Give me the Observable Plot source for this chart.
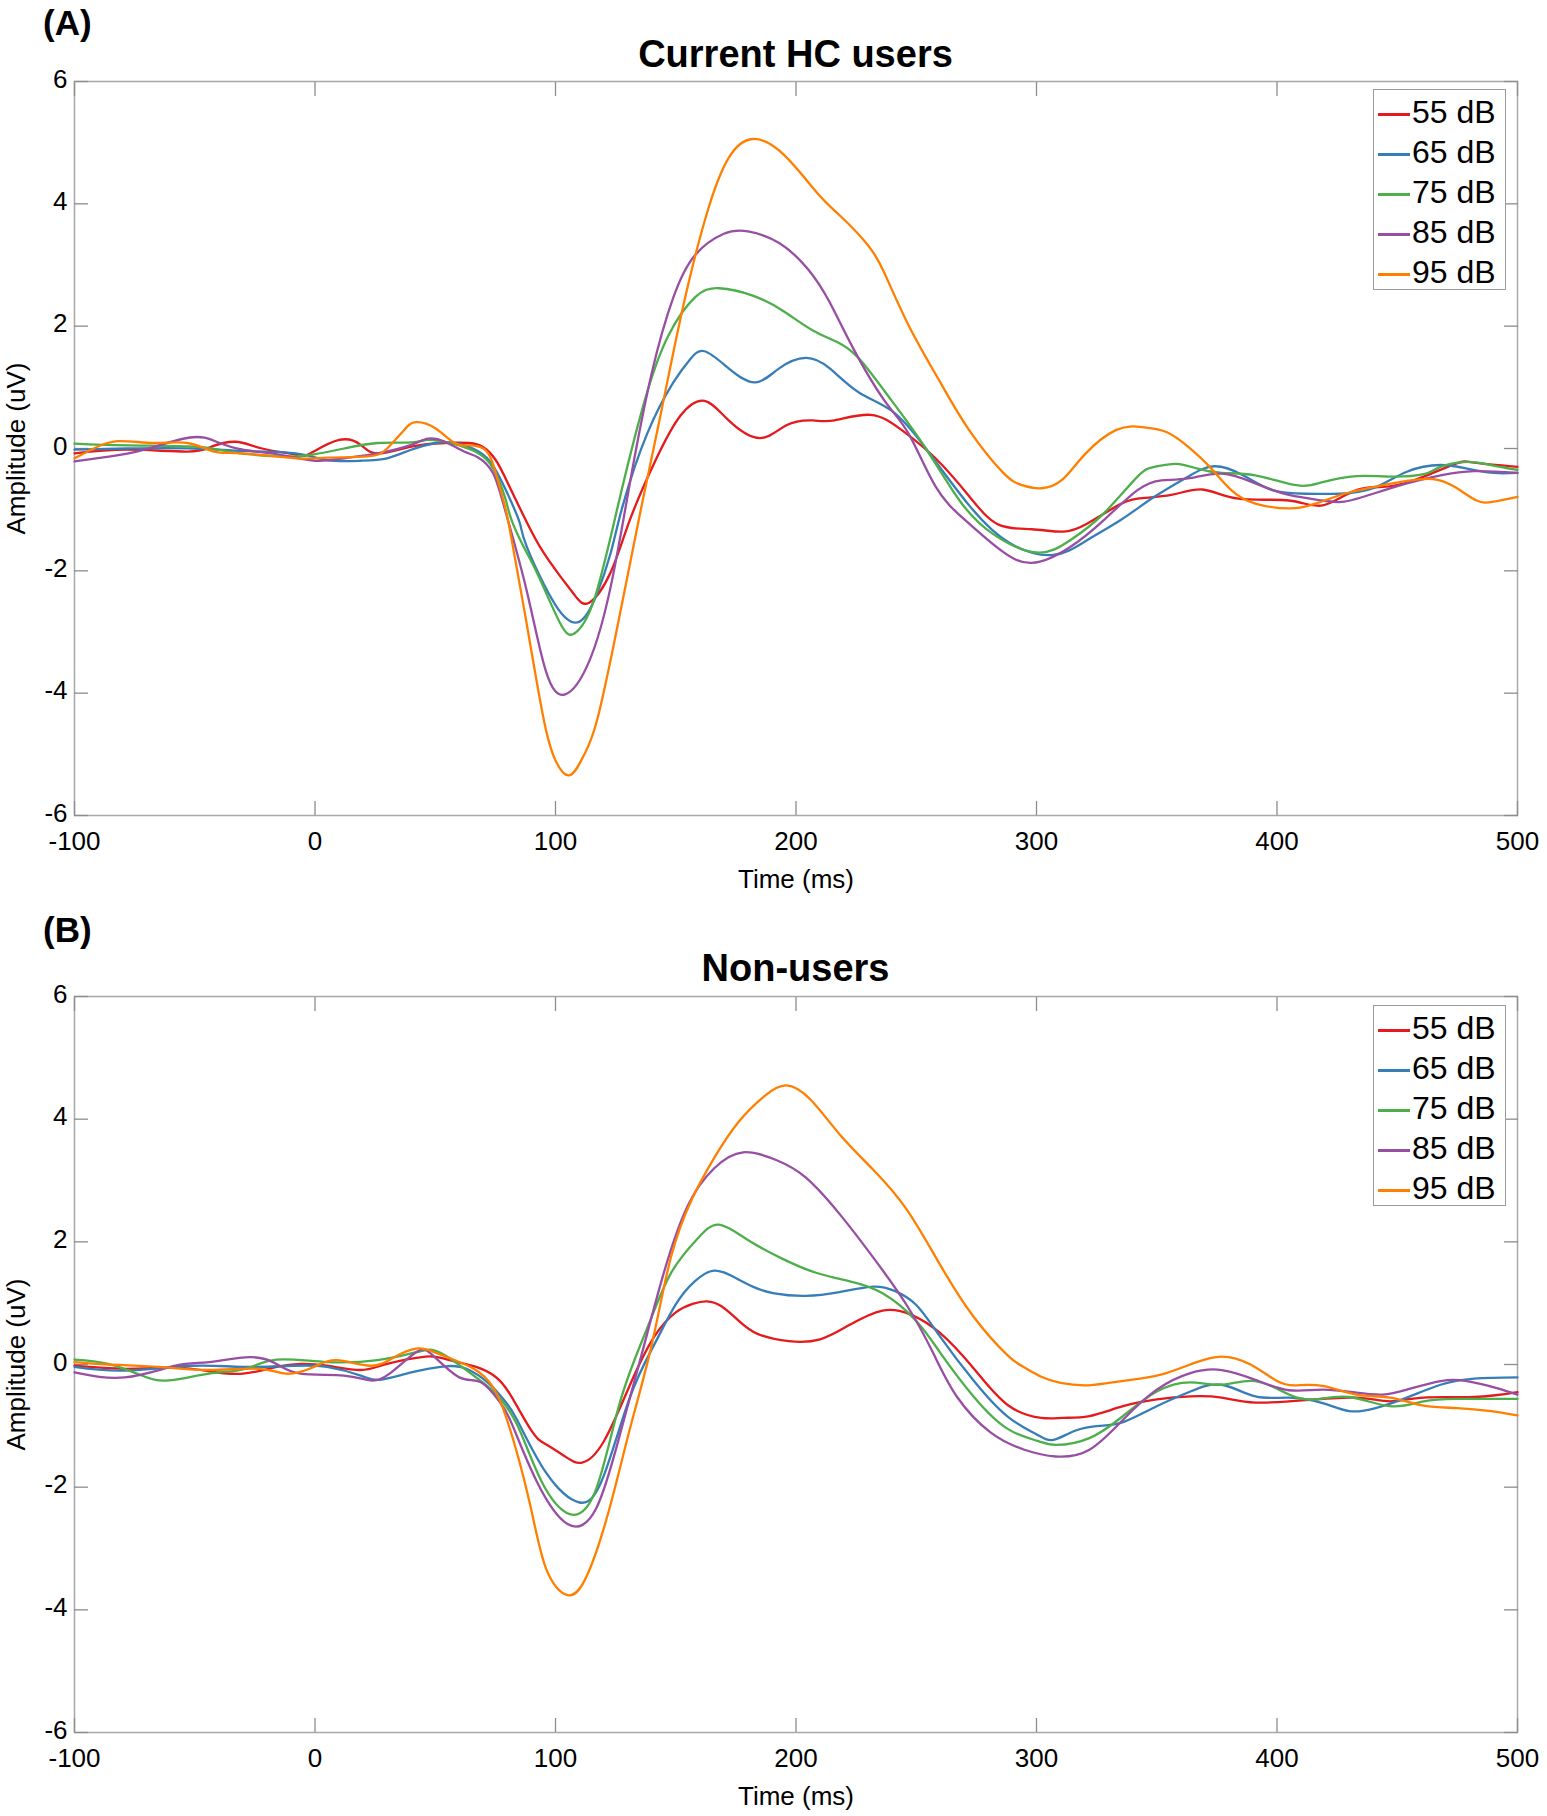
<!DOCTYPE html>
<html>
<head>
<meta charset="utf-8">
<script src="https://cdn.jsdelivr.net/npm/d3@7"></script>
<script src="https://cdn.jsdelivr.net/npm/@observablehq/plot@0.6"></script>
<style>
  body { margin: 0; background: #fff; font-family: "Liberation Sans", Arial, Helvetica, sans-serif; }
  #page { position: relative; width: 1547px; height: 1816px; overflow: hidden; }
  .panel-tag { position: absolute; left: 43px; font-weight: bold; font-size: 35px; line-height: 36px; }
  .panel-title { position: absolute; left: 74px; width: 1443px; text-align: center; font-weight: bold; font-size: 38px; line-height: 38px; }
  .plot { position: absolute; left: 0; }
  .legend { position: absolute; left: 1373px; width: 133px; height: 201px; border: 1.5px solid #9a9a9a; background: #fff; box-sizing: border-box; padding-top: 2px; }
  .legend div { height: 40px; line-height: 40px; font-size: 32px; white-space: nowrap; }
  .legend span.sw { display: inline-block; width: 32px; height: 2.5px; margin-left: 4px; margin-right: 2px; vertical-align: middle; }
</style>
</head>
<body>
<div id="page"></div>
<script>
// dB levels and line colours
const levels = ['55 dB', '65 dB', '75 dB', '85 dB', '95 dB']
const colors = ['#e41a1c', '#377eb8', '#4daf4a', '#984ea3', '#ff7f00']
const xTicks = [-100, 0, 100, 200, 300, 400, 500]
const yTicks = [-6, -4, -2, 0, 2, 4, 6]

// (A) Current HC users, [time ms, amplitude uV]
const hc55 = [[-100,-0.08],[-78,-0.02],[-53,-0.05],[-43,0.03],[-33,0.11],[-22,0.0],[-8,-0.1],[-2,-0.08],[10,0.14],[19,0.06],[26,-0.08],[40,0.03],[54,0.09],[64,0.09],[70,0.02],[75,-0.18],[80,-0.55],[88,-1.2],[95,-1.7],[102,-2.09],[108,-2.4],[114,-2.52],[123,-2.02],[131,-1.16],[142,-0.16],[152,0.54],[162,0.78],[172,0.46],[185,0.17],[196,0.38],[207,0.46],[216,0.46],[231,0.55],[244,0.3],[258,-0.16],[272,-0.78],[284,-1.24],[298,-1.32],[311,-1.36],[321,-1.23],[333,-0.95],[342,-0.82],[356,-0.76],[369,-0.67],[384,-0.82],[405,-0.85],[419,-0.93],[433,-0.68],[447,-0.62],[461,-0.46],[475,-0.24],[482,-0.23],[500,-0.3]]
const hc65 = [[-100,-0.02],[-78,0.0],[-50,0.0],[-30,-0.04],[-8,-0.08],[5,-0.19],[19,-0.2],[30,-0.16],[40,-0.02],[50,0.09],[58,0.09],[68,-0.05],[74,-0.28],[79,-0.65],[85,-1.2],[88,-1.6],[100,-2.56],[110,-2.83],[117,-2.4],[123,-1.7],[128,-0.93],[138,0.23],[149,1.08],[156,1.46],[162,1.59],[172,1.31],[183,1.08],[193,1.31],[204,1.48],[214,1.31],[226,0.92],[240,0.61],[254,0.0],[272,-0.93],[289,-1.55],[307,-1.74],[321,-1.5],[335,-1.17],[349,-0.79],[363,-0.46],[374,-0.29],[386,-0.44],[398,-0.68],[412,-0.74],[426,-0.74],[440,-0.65],[454,-0.38],[468,-0.27],[479,-0.33],[490,-0.4],[500,-0.4]]
const hc75 = [[-100,0.08],[-78,0.05],[-50,0.03],[-36,-0.05],[-15,-0.13],[-1,-0.1],[12,0.0],[26,0.09],[40,0.1],[47,0.14],[54,0.11],[60,0.05],[68,-0.08],[74,-0.32],[79,-0.8],[82,-1.2],[88,-1.7],[93,-2.09],[102,-2.86],[108,-3.02],[116,-2.48],[126,-0.93],[137,0.77],[147,1.85],[158,2.47],[168,2.62],[182,2.5],[195,2.24],[207,1.93],[219,1.7],[228,1.39],[240,0.77],[254,0.0],[268,-0.85],[282,-1.4],[300,-1.7],[314,-1.5],[328,-1.06],[342,-0.46],[349,-0.3],[358,-0.25],[367,-0.33],[377,-0.4],[391,-0.44],[408,-0.6],[419,-0.55],[433,-0.45],[447,-0.46],[461,-0.42],[468,-0.3],[479,-0.22],[489,-0.27],[500,-0.35]]
const hc85 = [[-100,-0.21],[-85,-0.13],[-71,-0.02],[-52,0.18],[-41,0.11],[-30,-0.02],[-15,-0.1],[0,-0.2],[12,-0.16],[26,-0.08],[40,0.06],[47,0.16],[54,0.11],[62,-0.05],[68,-0.15],[74,-0.4],[79,-1.0],[88,-2.32],[96,-3.64],[104,-4.02],[114,-3.48],[123,-2.25],[131,-0.55],[140,1.23],[149,2.47],[158,3.16],[170,3.51],[180,3.55],[193,3.36],[205,2.93],[214,2.39],[224,1.62],[237,0.77],[247,0.23],[258,-0.62],[270,-1.16],[284,-1.63],[298,-1.87],[314,-1.61],[328,-1.17],[342,-0.68],[352,-0.52],[363,-0.49],[377,-0.41],[391,-0.57],[405,-0.76],[419,-0.85],[428,-0.87],[440,-0.74],[454,-0.57],[468,-0.44],[482,-0.37],[500,-0.4]]
const hc95 = [[-100,-0.16],[-92,0.0],[-82,0.12],[-67,0.09],[-53,0.09],[-42,-0.05],[-30,-0.08],[-8,-0.16],[5,-0.15],[22,-0.13],[30,0.0],[37,0.3],[42,0.43],[50,0.33],[58,0.09],[64,0.05],[70,0.0],[74,-0.25],[78,-0.8],[81,-1.32],[88,-2.86],[95,-4.41],[100,-5.1],[106,-5.34],[112,-5.0],[117.5,-4.41],[126,-2.86],[135,-1.09],[144,0.61],[153,2.31],[163,3.85],[172,4.75],[182,5.06],[195,4.8],[209,4.17],[219,3.78],[230,3.32],[237,2.85],[247,2.0],[260,1.08],[272,0.3],[286,-0.39],[294,-0.6],[302,-0.65],[311,-0.5],[320,-0.1],[333,0.3],[344,0.35],[354,0.27],[363,0.03],[372,-0.3],[381,-0.68],[391,-0.9],[405,-0.98],[416,-0.9],[428,-0.74],[440,-0.63],[454,-0.53],[465,-0.5],[474,-0.63],[483,-0.85],[490,-0.87],[500,-0.79]]

// (B) Non-users, [time ms, amplitude uV]
const non55 = [[-100,-0.02],[-79,-0.07],[-58,-0.05],[-44,-0.11],[-30,-0.15],[-16,-0.04],[-6,0.01],[5,-0.02],[19,-0.09],[30,0.01],[46,0.13],[54,0.09],[67,-0.04],[75,-0.2],[81,-0.48],[90,-1.08],[96,-1.3],[104,-1.5],[111,-1.6],[120,-1.26],[131,-0.33],[141,0.45],[150,0.85],[157,0.99],[163,1.03],[169,0.95],[176,0.72],[184,0.5],[197,0.38],[210,0.41],[222,0.64],[236,0.88],[248,0.81],[260,0.51],[274,-0.07],[288,-0.66],[302,-0.87],[311,-0.87],[322,-0.84],[336,-0.68],[350,-0.57],[364,-0.52],[377,-0.54],[391,-0.62],[412,-0.58],[433,-0.54],[447,-0.6],[461,-0.54],[482,-0.53],[500,-0.45]]
const non65 = [[-100,-0.04],[-79,-0.1],[-51,-0.02],[-30,-0.04],[-9,-0.02],[5,-0.04],[19,-0.18],[27,-0.25],[40,-0.13],[54,-0.03],[63,-0.07],[72,-0.3],[78,-0.55],[84,-0.9],[96,-1.76],[110,-2.25],[120,-1.82],[131,-0.53],[141,0.32],[150,0.98],[158,1.36],[166,1.53],[174,1.43],[182,1.27],[191,1.16],[204,1.12],[218,1.18],[232,1.27],[241,1.2],[250,0.97],[260,0.45],[274,-0.27],[288,-0.85],[300,-1.14],[307,-1.23],[316,-1.08],[326,-1.0],[336,-0.94],[350,-0.68],[364,-0.44],[377,-0.33],[391,-0.52],[405,-0.54],[419,-0.63],[430,-0.76],[441,-0.71],[454,-0.54],[468,-0.33],[482,-0.23],[500,-0.21]]
const non75 = [[-100,0.08],[-86,0.01],[-72,-0.18],[-61,-0.26],[-44,-0.15],[-29,-0.07],[-16,0.08],[5,0.04],[26,0.07],[40,0.18],[47,0.24],[54,0.15],[67,-0.21],[75,-0.47],[84,-0.98],[94,-1.89],[106,-2.44],[117,-2.02],[127,-0.59],[138,0.58],[148,1.49],[159,2.05],[168,2.28],[180,2.03],[194,1.73],[208,1.5],[222,1.36],[236,1.16],[250,0.71],[260,0.19],[274,-0.53],[288,-1.05],[300,-1.24],[308,-1.31],[322,-1.2],[336,-0.84],[350,-0.44],[364,-0.29],[377,-0.33],[391,-0.27],[405,-0.49],[416,-0.57],[430,-0.53],[447,-0.68],[461,-0.6],[475,-0.56],[500,-0.56]]
const non85 = [[-100,-0.13],[-79,-0.21],[-58,-0.02],[-44,0.04],[-27,0.12],[-16,0.01],[-6,-0.15],[12,-0.18],[23,-0.26],[31,-0.15],[42,0.2],[49,0.15],[60,-0.21],[69,-0.29],[77,-0.62],[82,-0.98],[92,-1.89],[105,-2.6],[117,-2.34],[127,-1.11],[136,0.19],[145,1.49],[155,2.59],[166,3.2],[178,3.46],[192,3.33],[204,3.05],[218,2.46],[232,1.75],[246,0.97],[257,0.19],[267,-0.53],[281,-1.11],[295,-1.39],[308,-1.5],[322,-1.39],[336,-0.9],[350,-0.41],[364,-0.14],[377,-0.09],[391,-0.25],[405,-0.42],[419,-0.41],[433,-0.46],[444,-0.49],[454,-0.41],[468,-0.27],[479,-0.27],[491,-0.38],[500,-0.49]]
const non95 = [[-100,0.04],[-86,0.0],[-65,-0.04],[-44,-0.09],[-23,-0.07],[-12,-0.15],[-1,-0.05],[9,0.07],[23,-0.02],[33,0.12],[42,0.26],[51,0.18],[66,-0.07],[74,-0.37],[80,-0.92],[89,-2.21],[96,-3.32],[105,-3.76],[113,-3.45],[122,-2.41],[131,-1.04],[140,0.32],[148,1.75],[157,2.72],[166,3.37],[176,3.95],[187,4.38],[196,4.55],[206,4.32],[218,3.76],[232,3.18],[246,2.53],[260,1.62],[274,0.77],[288,0.15],[295,-0.05],[302,-0.2],[310,-0.3],[320,-0.34],[330,-0.3],[343,-0.23],[354,-0.14],[366,0.03],[377,0.13],[389,0.0],[400,-0.27],[408,-0.34],[419,-0.35],[433,-0.49],[447,-0.54],[461,-0.67],[475,-0.71],[489,-0.76],[500,-0.83]]

const seriesA = [hc55, hc65, hc75, hc85, hc95]
const seriesB = [non55, non65, non75, non85, non95]

function toRows(series) {
  return series.flatMap((pts, i) => pts.map(([t, v]) => ({t: t, v: v, level: levels[i]})))
}

const frameGrey = '#a8a8a8'
const tickGrey = '#8c8c8c'
const plain = d => String(d)

function panel(series, frameH) {
  return Plot.plot({
    width: 1547,
    height: 17 + frameH + 80,
    marginTop: 17,
    marginBottom: 80,
    marginLeft: 74,
    marginRight: 30,
    style: {fontFamily: '"Liberation Sans", Arial, sans-serif', color: '#000', background: 'transparent'},
    x: {domain: [-100, 500]},
    y: {domain: [-6, 6]},
    color: {domain: levels, range: colors},
    marks: [
      Plot.frame({stroke: frameGrey, strokeWidth: 1.5}),
      // inward ticks on all four sides, like a boxed axes
      Plot.axisX(xTicks, {anchor: 'bottom', tickSize: -14, fill: 'none', stroke: tickGrey, strokeWidth: 1.3}),
      Plot.axisX(xTicks, {anchor: 'top', tickSize: -14, fill: 'none', stroke: tickGrey, strokeWidth: 1.3}),
      Plot.axisY(yTicks, {anchor: 'left', tickSize: -14, fill: 'none', stroke: tickGrey, strokeWidth: 1.3}),
      Plot.axisY(yTicks, {anchor: 'right', tickSize: -14, fill: 'none', stroke: tickGrey, strokeWidth: 1.3}),
      Plot.axisX(xTicks, {
        anchor: 'bottom', tickSize: 0, stroke: 'none', tickPadding: 16,
        fontSize: 26, fill: '#000', tickFormat: plain,
        label: 'Time (ms)', labelAnchor: 'center', labelArrow: 'none', labelOffset: 72
      }),
      Plot.axisY(yTicks, {
        anchor: 'left', tickSize: 0, stroke: 'none', tickPadding: 7, dy: -2,
        fontSize: 26, fill: '#000', tickFormat: plain,
        label: 'Amplitude (uV)', labelAnchor: 'center', labelArrow: 'none', labelOffset: 68
      }),
      Plot.line(toRows(series), {
        x: 't', y: 'v', z: 'level', stroke: 'level',
        curve: 'natural', strokeWidth: 2.3
      })
    ]
  })
}

function legend(top) {
  const box = document.createElement('div')
  box.className = 'legend'
  box.style.top = top + 'px'
  levels.forEach((lv, i) => {
    const row = document.createElement('div')
    row.innerHTML = `<span class="sw" style="background:${colors[i]}"></span>${lv}`
    box.appendChild(row)
  })
  return box
}

function addText(cls, text, top) {
  const el = document.createElement('div')
  el.className = cls
  el.style.top = top + 'px'
  el.textContent = text
  page.appendChild(el)
}

const page = document.getElementById('page')

// panel A
const plotA = panel(seriesA, 734)
plotA.classList.add('plot')
plotA.style.top = '64px'
page.appendChild(plotA)
addText('panel-tag', '(A)', 5)
addText('panel-title', 'Current HC users', 35)
page.appendChild(legend(89))

// panel B
const plotB = panel(seriesB, 736)
plotB.classList.add('plot')
plotB.style.top = '979px'
page.appendChild(plotB)
addText('panel-tag', '(B)', 912)
addText('panel-title', 'Non-users', 949)
page.appendChild(legend(1005))
</script>
</body>
</html>
